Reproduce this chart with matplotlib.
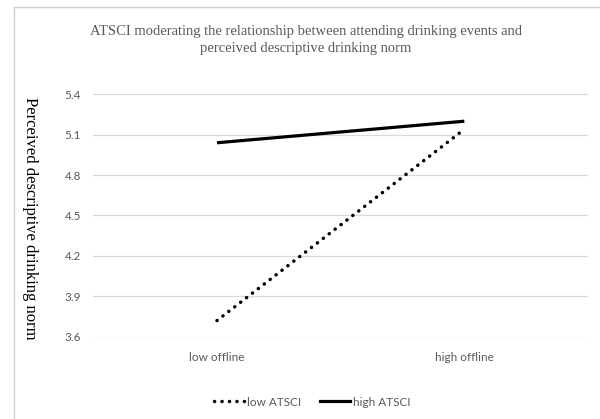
import matplotlib
matplotlib.use("Agg")
import matplotlib.pyplot as plt
from matplotlib.patches import Rectangle
from matplotlib.lines import Line2D

categories = ["low offline", "high offline"]
low_atsci = [3.72, 5.14]
high_atsci = [5.04, 5.20]
series_names = ["low ATSCI", "high ATSCI"]
yticks = [3.6, 3.9, 4.2, 4.5, 4.8, 5.1, 5.4]
title = "ATSCI moderating the relationship between attending drinking events and\nperceived descriptive drinking norm"
ylabel = "Perceived descriptive drinking norm"

gray = "#595959"
tick_font = ["Liberation Sans Narrow", "Lato", "DejaVu Sans"]
serif = ["Liberation Serif", "DejaVu Serif"]

fig = plt.figure(figsize=(6, 4.19), dpi=100)
ax = fig.add_axes([0.1555, 0.1964, 0.98 - 0.1555, 0.775 - 0.1964])

# chart frame
fig.patches.append(Rectangle((13.5 / 600, -0.05), 1.0, 1 - 7 / 419 + 0.05,
                             transform=fig.transFigure, fill=False,
                             edgecolor="#d0d0d0", linewidth=1.0))

x = list(range(len(categories)))
ax.plot(x, low_atsci, color="black", linewidth=2.5,
        linestyle=(0, (0.05, 2.1)), dash_capstyle="round", solid_capstyle="round",
        label=series_names[0])
ax.plot(x, high_atsci, color="black", linewidth=2.3, solid_capstyle="butt",
        label=series_names[1])

ax.set_xlim(-0.5, 1.5)
ax.set_ylim(3.6, 5.4)
ax.set_yticks(yticks)
ax.set_yticklabels([f"{v:.1f}" for v in yticks])
ax.set_xticks(x)
ax.set_xticklabels(categories)
ax.grid(axis="y", color="#d9d9d9", linewidth=0.9)
ax.set_axisbelow(True)
for s in ax.spines.values():
    s.set_visible(False)
ax.tick_params(axis="both", length=0, colors=gray, labelsize=8.5)
ax.tick_params(axis="y", pad=9)
ax.tick_params(axis="x", pad=11)
for lab in ax.get_xticklabels() + ax.get_yticklabels():
    lab.set_family(tick_font)

fig.text(0.51, 1 - 40 / 419, title, ha="center", va="center", color=gray,
         fontsize=10.5, family=serif, linespacing=1.35)
fig.text(0.05, 1 - 218 / 419, ylabel, ha="center", va="center", rotation=270,
         color="black", fontsize=12, family=serif)

handles = [
    Line2D([], [], color="black", linewidth=2.5, linestyle=(0, (0.05, 2.1)),
           dash_capstyle="round"),
    Line2D([], [], color="black", linewidth=2.3),
]
leg = fig.legend(handles, series_names, loc="center", bbox_to_anchor=(0.52, 1 - 402 / 419),
                 ncol=2, frameon=False, handlelength=2.6, handletextpad=0.2,
                 columnspacing=1.6, prop={"family": tick_font, "size": 8.5})
for t in leg.get_texts():
    t.set_color(gray)

fig.savefig("out.png", dpi=100)
